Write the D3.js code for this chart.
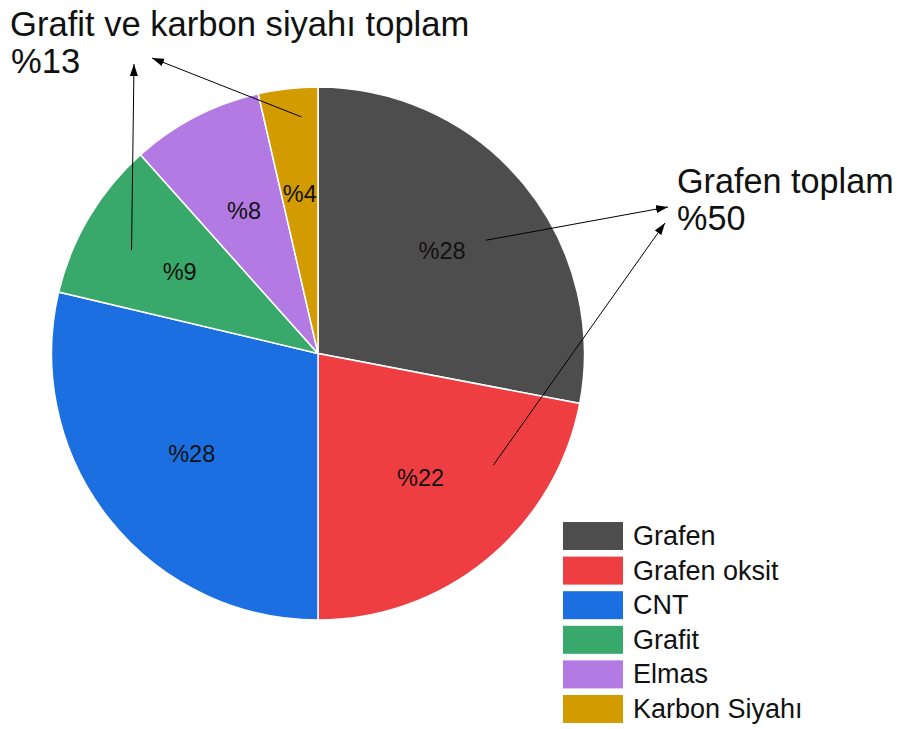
<!DOCTYPE html>
<html lang="tr">
<head>
  <meta charset="UTF-8">
  <title>Karbon malzemeler pasta grafiği</title>
  <script src="https://d3js.org/d3.v7.min.js"></script>
  <style>
    body { margin: 0; background: #fff; font-family: "Liberation Sans", Arial, sans-serif; }
    svg { display: block; }
  </style>
</head>
<body>
  <svg id="chart" width="900" height="729"></svg>
  <script>
    // veriler
    const categories = ["Grafen", "Grafen oksit", "CNT", "Grafit", "Elmas", "Karbon Siyahı"];
    const shares = [28, 22, 28.7, 9.7, 8.0, 3.6];   // dilim açılarından okunan paylar
    const labels = ["%28", "%22", "%28", "%9", "%8", "%4"];
    const colors = ["#4d4d4d", "#ef3e42", "#1b6fe0", "#38a96a", "#b27ae2", "#d29b00"];

    const svg = d3.select("#chart");
    const cx = 318, cy = 353.5, R = 266.5;

    const pie = d3.pie().sort(null).value(d => d.v);
    const arcs = pie(categories.map((c, i) => ({ c, v: shares[i], i })));
    const arc = d3.arc().innerRadius(0).outerRadius(R);
    const labelArc = d3.arc().innerRadius(161).outerRadius(161);

    const g = svg.append("g").attr("transform", `translate(${cx},${cy})`);

    g.selectAll("path.slice")
      .data(arcs)
      .enter().append("path")
      .attr("class", "slice")
      .attr("d", arc)
      .attr("fill", d => colors[d.data.i])
      .attr("stroke", "#fff")
      .attr("stroke-width", 1.5);

    g.selectAll("text.lbl")
      .data(arcs)
      .enter().append("text")
      .attr("class", "lbl")
      .attr("transform", d => `translate(${labelArc.centroid(d)})`)
      .attr("text-anchor", "middle")
      .attr("dy", "0.36em")
      .style("font-size", "23.5px")
      .style("fill", "#111")
      .text(d => labels[d.data.i]);

    // oklar
    svg.append("defs").append("marker")
      .attr("id", "head")
      .attr("viewBox", "0 0 12 8")
      .attr("refX", 12).attr("refY", 4)
      .attr("markerWidth", 12).attr("markerHeight", 8)
      .attr("markerUnits", "userSpaceOnUse")
      .attr("orient", "auto")
      .append("path").attr("d", "M0,0L12,4L0,8Z").attr("fill", "#000");

    // başlangıç: dilim içinde (açı derece, yarıçap oranı); bitiş: yazının yanında
    const polar = (deg, f) => {
      const a = deg * Math.PI / 180;
      return [cx + Math.sin(a) * R * f, cy - Math.cos(a) * R * f];
    };
    const arrows = [
      { from: polar(299, 0.80), to: [134, 64] },
      { from: polar(356, 0.89), to: [152, 58] },
      { from: polar(56, 0.76), to: [668, 207] },
      { from: polar(122.5, 0.78), to: [665, 223] }
    ];
    svg.selectAll("line.arrow")
      .data(arrows)
      .enter().append("line")
      .attr("class", "arrow")
      .attr("x1", d => d.from[0]).attr("y1", d => d.from[1])
      .attr("x2", d => d.to[0]).attr("y2", d => d.to[1])
      .attr("stroke", "#000")
      .attr("stroke-width", 1)
      .attr("marker-end", "url(#head)");

    // açıklama yazıları
    const notes = [
      { x: 10, y: 36, t: "Grafit ve karbon siyahı toplam", s: 34.6 },
      { x: 11, y: 73, t: "%13", s: 34.6 },
      { x: 677, y: 193, t: "Grafen toplam", s: 34.2 },
      { x: 677, y: 230, t: "%50", s: 34.2 }
    ];
    svg.selectAll("text.note")
      .data(notes)
      .enter().append("text")
      .attr("class", "note")
      .attr("x", d => d.x).attr("y", d => d.y)
      .style("font-size", d => d.s + "px")
      .style("fill", "#111")
      .text(d => d.t);

    // gösterge
    const legend = svg.append("g").attr("transform", "translate(563,522)");
    const row = legend.selectAll("g")
      .data(categories)
      .enter().append("g")
      .attr("transform", (d, i) => `translate(0,${i * 34.6})`);
    row.append("rect")
      .attr("width", 60).attr("height", 28)
      .attr("fill", (d, i) => colors[i]);
    row.append("text")
      .attr("x", 70).attr("y", 23)
      .style("font-size", "27px")
      .style("fill", "#111")
      .text(d => d);
  </script>
</body>
</html>
